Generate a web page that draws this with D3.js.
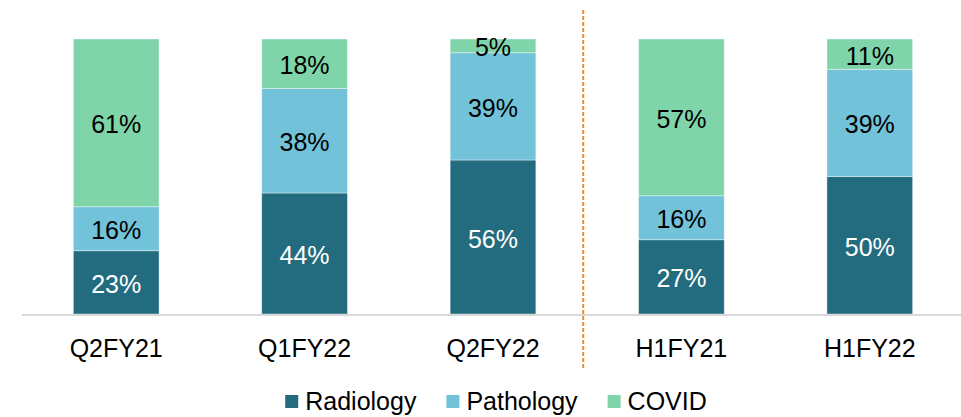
<!DOCTYPE html>
<html>
<head>
<meta charset="utf-8">
<script src="https://cdn.jsdelivr.net/npm/d3@7"></script>
<style>
  body { margin: 0; background: #fff; }
  svg { display: block; font-family: "Liberation Sans", Arial, sans-serif; }
</style>
</head>
<body>
<svg id="chart" width="961" height="417"></svg>
<script>
// chart data
var categories = ["Q2FY21", "Q1FY22", "Q2FY22", "H1FY21", "H1FY22"];
var seriesNames = ["Radiology", "Pathology", "COVID"];
var radiology = [23, 44, 56, 27, 50];
var pathology = [16, 38, 39, 16, 39];
var covid = [61, 18, 5, 57, 11];

var colors = { Radiology: "#236b7e", Pathology: "#72c2d9", COVID: "#80d4a9" };
var labelColors = { Radiology: "#ffffff", Pathology: "#000000", COVID: "#000000" };

var svg = d3.select("#chart");
var W = 961, H = 417;
var plotTop = 39, plotBase = 314;

var rows = categories.map(function(c, i){
    return { cat: c, Radiology: radiology[i], Pathology: pathology[i], COVID: covid[i] };
});
var stacked = d3.stack().keys(seriesNames)(rows);

var x = d3.scaleBand().domain(categories).range([22, 964]).paddingInner(0.545).paddingOuter(0.2725);
var y = d3.scaleLinear().domain([0, 100]).range([plotBase, plotTop]);

// bars
var layer = svg.selectAll("g.layer").data(stacked).enter().append("g").attr("class", "layer");
layer.selectAll("rect").data(function(d){ return d.map(function(p){ p.key = d.key; return p; }); })
    .enter().append("rect")
    .attr("x", function(d){ return x(d.data.cat); })
    .attr("width", x.bandwidth())
    .attr("y", function(d){ return y(d[1]); })
    .attr("height", function(d){ return y(d[0]) - y(d[1]); })
    .attr("fill", function(d){ return colors[d.key]; })
    .attr("stroke", "rgba(255,255,255,0.5)")
    .attr("stroke-width", 0.8);

// value labels
layer.selectAll("text").data(function(d){ return d; })
    .enter().append("text")
    .attr("x", function(d){ return x(d.data.cat) + x.bandwidth()/2; })
    .attr("y", function(d){ return (y(d[0]) + y(d[1]))/2; })
    .attr("dy", "0.42em")
    .attr("text-anchor", "middle")
    .attr("font-size", 25)
    .attr("fill", function(d){ return labelColors[d.key]; })
    .text(function(d){ return (d[1] - d[0]) + "%"; });

// baseline
svg.append("line")
    .attr("x1", 22).attr("x2", W)
    .attr("y1", plotBase + 1).attr("y2", plotBase + 1)
    .attr("stroke", "#d9d9d9").attr("stroke-width", 2);

// category axis
var xAxis = svg.append("g").attr("transform", "translate(0," + plotBase + ")")
    .call(d3.axisBottom(x).tickSize(0).tickPadding(0));
xAxis.select(".domain").remove();
xAxis.selectAll("text")
    .attr("font-family", "Liberation Sans, Arial, sans-serif")
    .attr("font-size", 25)
    .attr("fill", "#000")
    .attr("dy", null)
    .attr("y", 43);

// quarter / half-year divider
var divX = (x("Q2FY22") + x.bandwidth() + x("H1FY21"))/2 - 4;
svg.append("line")
    .attr("x1", divX).attr("x2", divX)
    .attr("y1", 10).attr("y2", 370)
    .attr("stroke", "#ef8a35").attr("stroke-width", 2)
    .attr("stroke-dasharray", "4,2");

// legend
var legend = svg.append("g");
var lx = 0;
seriesNames.forEach(function(name){
    var g = legend.append("g").attr("transform", "translate(" + lx + ",0)");
    g.append("rect").attr("x", 0).attr("y", -6).attr("width", 13).attr("height", 13).attr("fill", colors[name]);
    var t = g.append("text").attr("x", 20).attr("y", 8.5).attr("font-size", 25).attr("fill", "#000").text(name);
    lx += 20 + t.node().getComputedTextLength() + 30;
});
var lw = lx - 30;
legend.attr("transform", "translate(" + (496 - lw/2) + ",401)");
</script>
</body>
</html>
